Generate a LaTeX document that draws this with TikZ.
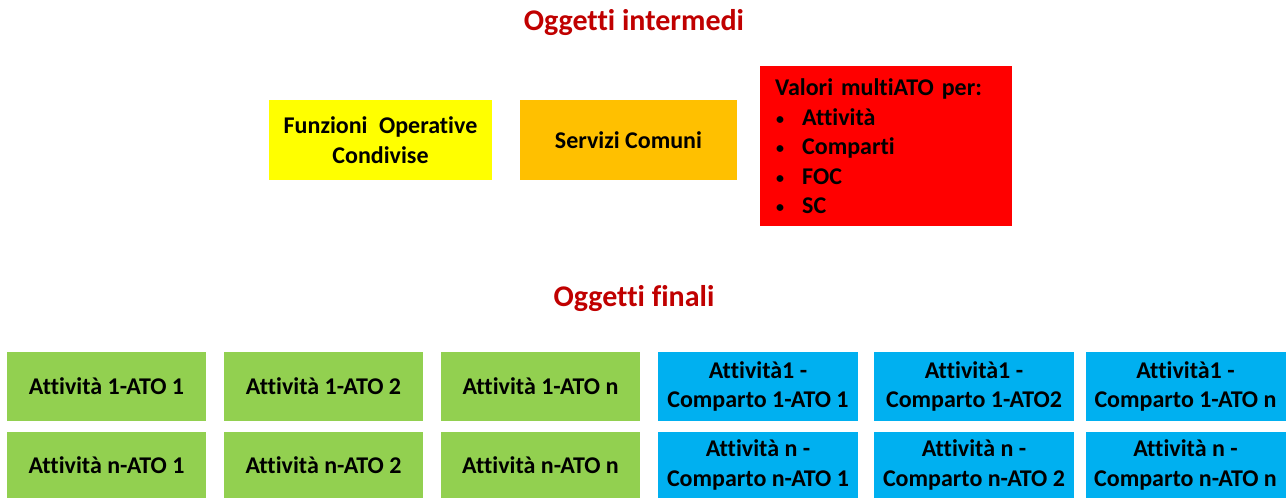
\documentclass[tikz,border=0pt]{standalone}
\usepackage{fontspec}
\setmainfont[Ligatures={NoCommon}]{Carlito}
\definecolor{ttl}{HTML}{C00000}
\definecolor{yel}{HTML}{FFFF00}
\definecolor{ora}{HTML}{FFC000}
\definecolor{rd}{HTML}{FF0000}
\definecolor{grn}{HTML}{92D050}
\definecolor{blu}{HTML}{00B0F0}
\newcommand{\bul}{\hspace*{1pt}\makebox[26pt][l]{\raisebox{1pt}{\fontsize{16}{16}\selectfont•}}}
\begin{document}
\begin{tikzpicture}[x=1pt,y=-1pt,
  title/.style={text=ttl,font=\fontsize{30}{36}\selectfont\bfseries,inner sep=0pt},
  cell/.style={inner sep=0pt,align=center,font=\fontsize{24}{29.5}\selectfont\bfseries},
  gbox/.style={cell,fill=grn,minimum width=199pt,minimum height=69pt},
  bbox/.style={cell,fill=blu,minimum width=200pt,minimum height=69pt}]
\useasboundingbox (0,0) rectangle (1288,498);
\node[title] (t1) at (634,23) {Oggetti intermedi};
\node[title] (t2) at (634,299) {Oggetti finali};
\node[cell,fill=yel,minimum width=223pt,minimum height=80pt] (foc) at (380.5,140) {Funzioni\hspace{0.25em} Operative\\Condivise};
\node[cell,fill=ora,minimum width=217pt,minimum height=80pt] (sc) at (628.5,140) {Servizi Comuni};
\node[fill=rd,anchor=north west,minimum width=252pt,minimum height=160pt,text width=222pt,inner xsep=15pt,inner ysep=0pt,align=left,font=\fontsize{24}{29.5}\selectfont\bfseries] (val) at (760,66)
 {Valori multiATO per:\\
  \bul Attività\\
  \bul Comparti\\
  \bul FOC\\
  \bul SC};
% row 1
\node[gbox] (a11) at (106.5,386.5) {Attività 1-ATO 1};
\node[gbox] (a12) at (323.5,386.5) {Attività 1-ATO 2};
\node[gbox] (a1n) at (540.5,386.5) {Attività 1-ATO n};
\node[bbox] (c11) at (758,386.5) {Attività1 -\\Comparto 1-ATO 1};
\node[bbox] (c12) at (974,386.5) {Attività1 -\\Comparto 1-ATO2};
\node[bbox] (c1n) at (1185.5,386.5) {Attività1 -\\Comparto 1-ATO n};
% row 2
\node[gbox,minimum height=66pt] (an1) at (106.5,465) {Attività n-ATO 1};
\node[gbox,minimum height=66pt] (an2) at (323.5,465) {Attività n-ATO 2};
\node[gbox,minimum height=66pt] (ann) at (540.5,465) {Attività n-ATO n};
\node[bbox,minimum height=66pt] (cn1) at (758,465) {Attività n -\\Comparto n-ATO 1};
\node[bbox,minimum height=66pt] (cn2) at (974,465) {Attività n -\\Comparto n-ATO 2};
\node[bbox,minimum height=66pt] (cnn) at (1185.5,465) {Attività n -\\Comparto n-ATO n};
\end{tikzpicture}
\end{document}
